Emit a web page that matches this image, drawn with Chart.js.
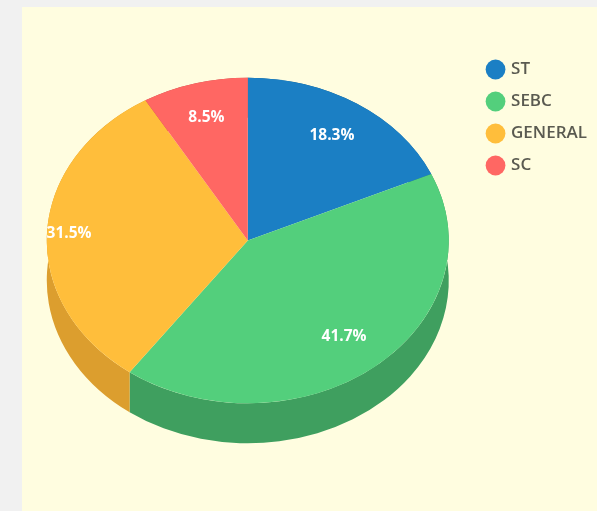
<!DOCTYPE html>
<html>
<head>
<meta charset="utf-8">
<script src="https://cdn.jsdelivr.net/npm/chart.js@4"></script>
<style>
html, body { margin: 0; padding: 0; width: 597px; height: 511px; overflow: hidden; background: #f1f1f1; }
#panel { position: absolute; left: 22px; top: 7px; width: 575px; height: 504px; background: #fffde0; }
#grafico { position: absolute; left: 0; top: 0; filter: blur(0.5px); }
</style>
</head>
<body>
<div id="panel"></div>
<canvas id="grafico" width="597" height="511"></canvas>
<script>
const categorias = ['ST', 'SEBC', 'GENERAL', 'SC'];
const valores = [18.3, 41.7, 31.5, 8.5];
const colores = ['#1b7fc4', '#53cf7c', '#ffbe3b', '#ff6763'];
const coloresLado = ['#14608f', '#3f9f5f', '#dc9e2e', '#c04f4c'];
// distancia de cada etiqueta al centro, como fraccion del radio
const radioEtiqueta = [0.77, 0.76, 0.89, 0.78];

const escalaY = 0.81;
const centroY = 240.5;
const grosor = 40;

// inclina el pastel y le pone el lateral oscuro
const pastel3d = {
    id: 'pastel3d',
    beforeDatasetsDraw(chart) {
        const ctx = chart.ctx;
        const arcos = chart.getDatasetMeta(0).data;
        arcos.forEach((arco, i) => {
            const rx = arco.outerRadius;
            const ry = rx * escalaY;
            ctx.beginPath();
            ctx.ellipse(arco.x, centroY, rx, ry, 0, arco.startAngle, arco.endAngle);
            ctx.ellipse(arco.x, centroY + grosor, rx, ry, 0, arco.endAngle, arco.startAngle, true);
            ctx.closePath();
            ctx.fillStyle = coloresLado[i];
            ctx.fill();
        });
        ctx.save();
        ctx.translate(0, centroY);
        ctx.scale(1, escalaY);
        ctx.translate(0, -arcos[0].y);
    },
    afterDatasetsDraw(chart) {
        const ctx = chart.ctx;
        ctx.restore();
        const arcos = chart.getDatasetMeta(0).data;
        ctx.save();
        ctx.fillStyle = '#ffffff';
        ctx.font = '700 15.5px "Open Sans"';
        ctx.textAlign = 'center';
        ctx.textBaseline = 'middle';
        arcos.forEach((arco, i) => {
            const medio = (arco.startAngle + arco.endAngle) / 2;
            const r = arco.outerRadius * radioEtiqueta[i];
            const x = arco.x + Math.cos(medio) * r;
            const y = centroY + Math.sin(medio) * r * escalaY;
            ctx.fillText(valores[i].toFixed(1) + '%', x, y);
        });
        ctx.restore();
    }
};

new Chart(document.getElementById('grafico').getContext('2d'), {
    type: 'pie',
    data: {
        labels: categorias,
        datasets: [{
            data: valores,
            backgroundColor: colores,
            borderWidth: 0,
            clip: false
        }]
    },
    options: {
        responsive: false,
        animation: false,
        layout: { padding: { left: 22, right: 0, top: 46, bottom: 63 } },
        plugins: {
            tooltip: { enabled: false },
            legend: {
                position: 'right',
                align: 'start',
                labels: {
                    usePointStyle: true,
                    pointStyle: 'circle',
                    boxWidth: 14,
                    boxHeight: 14,
                    color: '#5a5a50',
                    padding: 15,
                    font: { family: '"Open Sans"', size: 17, weight: '600' }
                }
            }
        }
    },
    plugins: [pastel3d]
});
</script>
</body>
</html>
